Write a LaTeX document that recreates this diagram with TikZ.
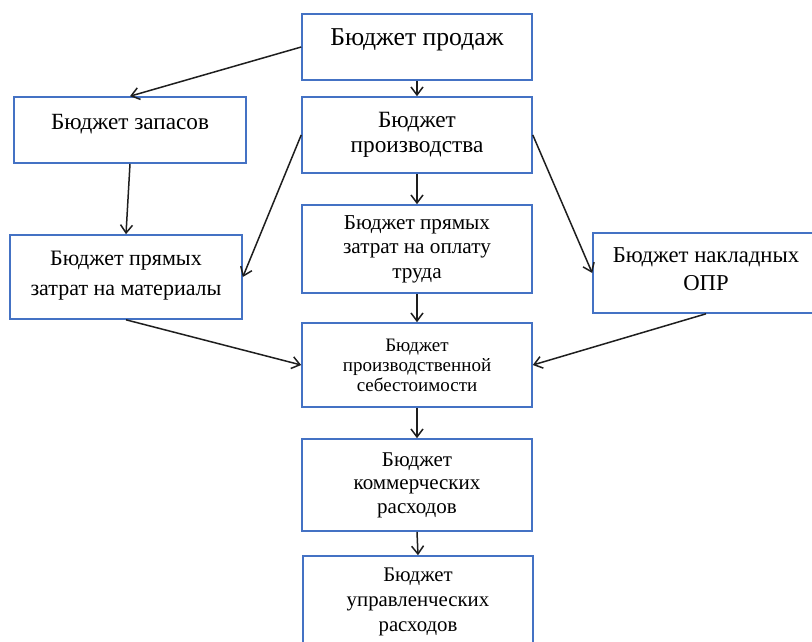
\documentclass[tikz,border=0pt]{standalone}
\usepackage{fontspec}
\setmainfont{Liberation Serif}
\usetikzlibrary{arrows.meta}
\definecolor{boxblue}{RGB}{68,114,196}
\definecolor{pfeilgrau}{RGB}{30,30,30}

\begin{document}
\begin{tikzpicture}[x=1pt, y=-1pt, >={Straight Barb[length=8pt, width=12pt]},
		budget/.style={draw=boxblue, line width=1.6pt, align=center, minimum width=230pt, inner sep=0pt},
		pfeil/.style={->, pfeilgrau, line width=1.5pt}]
	%Bildbereich
	\useasboundingbox (0,0) rectangle (812,641);
	\clip (0,0) rectangle (812,641);
	\fill[white] (0,0) rectangle (812,641);
	% Kaesten zeichnen
	\node[budget, text height=31pt, text depth=35pt, font=\fontsize{25.7}{28}\selectfont] (prod) at (417,47) {Бюджет продаж};
	\node[budget, minimum width=232pt, text height=32pt, text depth=34pt, font=\fontsize{23.2}{26}\selectfont] (zapas) at (130,130) {Бюджет запасов};
	\node[budget, minimum height=76pt, font=\fontsize{23.3}{25}\selectfont] (proizv) at (417,135) {Бюджет\\производства};
	\node[budget, minimum height=88pt, font=\fontsize{21.2}{24.5}\selectfont] (trud) at (417,249) {Бюджет прямых\\затрат на оплату\\труда};
	\node[budget, minimum width=232pt, minimum height=84pt, font=\fontsize{22}{29.5}\selectfont] (mater) at (126,277) {Бюджет прямых\\затрат на материалы\\[-22pt]};
	\node[budget, minimum width=226pt, minimum height=80pt, font=\fontsize{22.7}{28}\selectfont] (nakl) at (706,273) {Бюджет накладных\\ОПР\\[-20pt]};
	\node[budget, minimum height=84pt, font=\fontsize{19}{20}\selectfont] (sebest) at (417,365) {Бюджет\\производственной\\себестоимости};
	\node[budget, minimum height=92pt, font=\fontsize{21}{23.5}\selectfont] (kommer) at (417,485) {Бюджет\\коммерческих\\расходов};
	\node[budget, minimum height=92pt, font=\fontsize{20.8}{25}\selectfont] (upravl) at (418,602) {Бюджет\\управленческих\\расходов};
	% Pfeile zeichnen
	\draw[pfeil] (prod.west) -- (zapas.north);
	\draw[pfeil] (prod.south) -- (proizv.north);
	\draw[pfeil] (zapas.south) -- (mater.north);
	\draw[pfeil] (proizv.west) -- (mater.east);
	\draw[pfeil] (proizv.east) -- (nakl.west);
	\draw[pfeil] (proizv.south) -- (trud.north);
	\draw[pfeil] (trud.south) -- (sebest.north);
	\draw[pfeil] (mater.south) -- (sebest.west);
	\draw[pfeil] (nakl.south) -- (sebest.east);
	\draw[pfeil] (sebest.south) -- (kommer.north);
	\draw[pfeil] (kommer.south) -- (upravl.north);
\end{tikzpicture}
\end{document}
